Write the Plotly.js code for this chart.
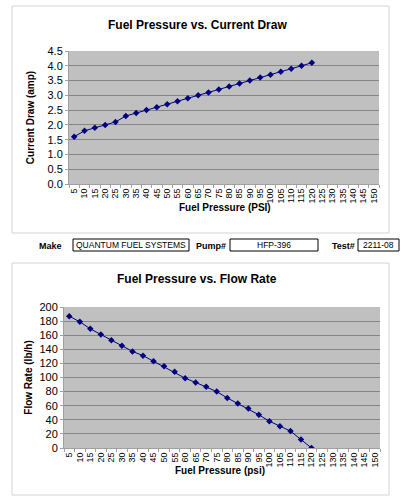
<!DOCTYPE html>
<html>
<head>
<meta charset="utf-8">
<script src="https://cdn.plot.ly/plotly-3.0.1.min.js"></script>
<style>
html,body{margin:0;padding:0;background:#fff;}
#chart{width:410px;height:500px;}
</style>
</head>
<body>
<div id="chart"></div>
<script>
// Data
const pressureCategories = ["5","10","15","20","25","30","35","40","45","50","55","60","65","70","75","80","85","90","95","100","105","110","115","120","125","130","135","140","145","150"];
const measuredPressures = ["5","10","15","20","25","30","35","40","45","50","55","60","65","70","75","80","85","90","95","100","105","110","115","120"];
const currentDraw = [1.6,1.8,1.9,2.0,2.1,2.3,2.4,2.5,2.6,2.7,2.8,2.9,3.0,3.1,3.2,3.3,3.4,3.5,3.6,3.7,3.8,3.9,4.0,4.1];
const flowRate = [187,179,169,161,153,145,137,131,123,116,108,99,93,87,80,71,63,56,47,38,31,24,12,0];
const infoMake = "QUANTUM FUEL SYSTEMS";
const infoPump = "HFP-396";
const infoTest = "2211-08";

const W = 410, H = 500;
const px = x => x / W;
const py = y => 1 - y / H;
const FONT = "Liberation Sans, Arial, sans-serif";
const navy = "#000080";

const traceStyle = {
  mode: "lines+markers",
  line: {color: navy, width: 1},
  marker: {symbol: "diamond", size: 5, color: navy},
  hoverinfo: "skip",
  showlegend: false
};

const traces = [
  Object.assign({x: measuredPressures, y: currentDraw, xaxis: "x", yaxis: "y"}, traceStyle),
  Object.assign({x: measuredPressures, y: flowRate, xaxis: "x2", yaxis: "y2"}, traceStyle)
];

function xAxis(domain, anchor) {
  return {
    domain: domain, anchor: anchor, type: "category",
    categoryorder: "array", categoryarray: pressureCategories,
    range: [-0.5, pressureCategories.length - 0.5],
    tickmode: "array", tickvals: pressureCategories, ticktext: pressureCategories,
    tickangle: -90, tickfont: {family: FONT, size: 9, color: "#000"},
    ticks: "outside", tickson: "boundaries", ticklen: 3, tickcolor: "#a0a0a0",
    showline: true, linecolor: "#a0a0a0", linewidth: 1,
    showgrid: false, zeroline: false, automargin: false, fixedrange: true
  };
}
function yAxis(domain, anchor, range, dtick, fmt, title, standoff) {
  return {
    domain: domain, anchor: anchor, range: range, dtick: dtick, tickformat: fmt,
    tickfont: {family: FONT, size: 11, color: "#000"},
    ticks: "outside", ticklen: 3, tickcolor: "#a0a0a0",
    showline: true, linecolor: "#a0a0a0", linewidth: 1,
    showgrid: true, gridcolor: "#858585", gridwidth: 1,
    zeroline: false, automargin: false, fixedrange: true,
    title: {text: title, font: {family: FONT, size: 10, color: "#000", weight: "bold"}, standoff: standoff}
  };
}

const box = (x0, y0, x1, y1, color, fill) => ({
  type: "rect", xref: "paper", yref: "paper",
  x0: px(x0), x1: px(x1), y0: py(y1), y1: py(y0),
  line: {color: color, width: 1}, fillcolor: fill || "rgba(0,0,0,0)", layer: "below"
});

const txt = (x, y, text, opts) => Object.assign({
  xref: "paper", yref: "paper", x: px(x), y: py(y), text: text, showarrow: false,
  xanchor: "center", yanchor: "middle",
  font: {family: FONT, size: 8.5, color: "#000"}
}, opts || {});

const boldFont = size => ({family: FONT, size: size, color: "#000"});

const layout = {
  width: W, height: H,
  margin: {l: 0, r: 0, t: 0, b: 0},
  paper_bgcolor: "#ffffff",
  plot_bgcolor: "#c0c0c0",
  showlegend: false,
  xaxis: xAxis([px(69), px(379)], "y"),
  yaxis: yAxis([py(184), py(51)], "x", [0, 4.5], 0.5, ".1f", "Current Draw (amp)", 11),
  xaxis2: xAxis([px(64), px(380)], "y2"),
  yaxis2: yAxis([py(448), py(307)], "x2", [0, 200], 20, "d", "Flow Rate (lb/h)", 4),
  shapes: [
    box(12, 6, 389, 233, "#d4d4d4"),
    box(12, 263, 389, 495, "#d4d4d4"),
    box(73, 239, 189, 251, "#000", "#fff"),
    box(230, 239, 318, 251, "#000", "#fff"),
    box(358, 239, 399, 251, "#000", "#fff")
  ],
  annotations: [
    txt(197, 25, "<b>Fuel Pressure vs. Current Draw</b>", {font: boldFont(12)}),
    txt(197, 279, "<b>Fuel Pressure vs. Flow Rate</b>", {font: boldFont(12)}),
    txt(225, 208, "<b>Fuel Pressure (PSI)</b>", {font: boldFont(10)}),
    txt(220, 470, "<b>Fuel Pressure (psi)</b>", {font: boldFont(10)}),
    txt(64, 245.5, "<b>Make</b>", {xanchor: "right", font: boldFont(9)}),
    txt(131, 245, infoMake),
    txt(228, 245.5, "<b>Pump#</b>", {xanchor: "right", font: boldFont(9)}),
    txt(274, 245, infoPump),
    txt(357, 245.5, "<b>Test#</b>", {xanchor: "right", font: boldFont(9)}),
    txt(378.5, 245, infoTest)
  ]
};

Plotly.newPlot("chart", traces, layout, {staticPlot: true, displayModeBar: false});
</script>
</body>
</html>
